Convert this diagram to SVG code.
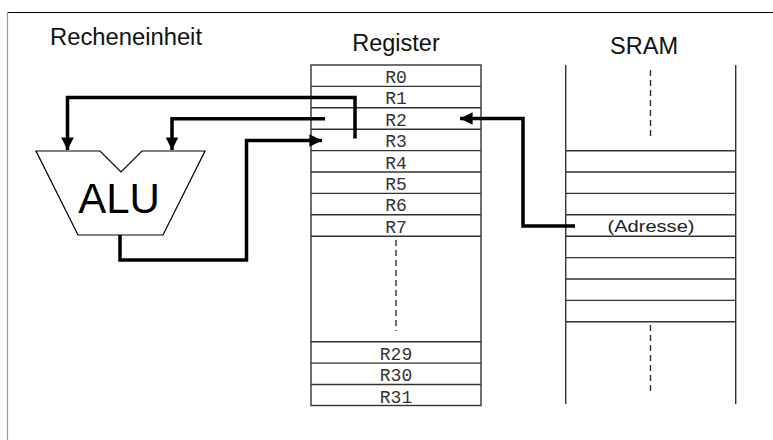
<svg xmlns="http://www.w3.org/2000/svg" width="773" height="440" viewBox="0 0 773 440">
<style>
.title{font-family:"Liberation Sans",Arial,sans-serif;font-size:23.5px;fill:#111}
.reg{font-family:"Liberation Mono","Courier New",monospace;font-size:18px;fill:#333;text-anchor:middle}
.box{fill:none;stroke:#333;stroke-width:1.4}
.dash{fill:none;stroke:#333;stroke-width:1.4;stroke-dasharray:6,4}
.wire{fill:none;stroke:#000;stroke-width:3.5;stroke-linejoin:miter}
</style>
<defs>
<marker id="ah" viewBox="0 0 10 10" refX="10" refY="5" markerWidth="4.3" markerHeight="3.6" markerUnits="strokeWidth" orient="auto">
<path d="M0,0 L10,5 L0,10 z" fill="#000"/>
</marker>
</defs>
<rect width="773" height="440" fill="#fff"/>
<line x1="7" y1="12.5" x2="773" y2="12.5" stroke="#000" stroke-width="1.2"/>
<line x1="7.5" y1="12" x2="7.5" y2="440" stroke="#999" stroke-width="1.2"/>

<text class="title" x="50" y="45" textLength="152" lengthAdjust="spacingAndGlyphs">Recheneinheit</text>
<text class="title" x="396" y="51" text-anchor="middle">Register</text>
<text class="title" x="644" y="54" textLength="68" lengthAdjust="spacingAndGlyphs" text-anchor="middle">SRAM</text>

<g id="alu">
<polygon points="36,151 100,151 121,172 142,151 205,151 163,235 78,235" fill="#fff" stroke="#000" stroke-width="1.2"/>
<text x="119" y="212.5" text-anchor="middle" style="font-family:'Liberation Sans',Arial,sans-serif;font-size:42px;fill:#000">ALU</text>
</g>

<g id="register">
<rect class="box" x="311" y="65" width="170" height="340.5"/>
<path class="box" d="M311,86.4H481M311,107.8H481M311,129.2H481M311,150.6H481M311,172H481M311,193.4H481M311,214.8H481M311,236.2H481M311,341.7H481M311,363.1H481M311,384.5H481"/>
<line class="dash" x1="396" y1="240" x2="396" y2="331"/>
<text class="reg" x="396" y="83">R0</text>
<text class="reg" x="396" y="104.4">R1</text>
<text class="reg" x="396" y="125.8">R2</text>
<text class="reg" x="396" y="147.2">R3</text>
<text class="reg" x="396" y="168.6">R4</text>
<text class="reg" x="396" y="190">R5</text>
<text class="reg" x="396" y="211.4">R6</text>
<text class="reg" x="396" y="232.8">R7</text>
<text class="reg" x="396" y="360">R29</text>
<text class="reg" x="396" y="381.4">R30</text>
<text class="reg" x="396" y="402.8">R31</text>
</g>

<g id="sram">
<path class="box" d="M565.7,65V404M735.7,65V404"/>
<path class="box" d="M565.7,150.7H735.7M565.7,172H735.7M565.7,193.4H735.7M565.7,214.8H735.7M565.7,236.2H735.7M565.7,257.6H735.7M565.7,279H735.7M565.7,300.4H735.7M565.7,321.8H735.7"/>
<line class="dash" x1="650.5" y1="70" x2="650.5" y2="140"/>
<line class="dash" x1="650.5" y1="325" x2="650.5" y2="395"/>
<text x="651" y="232" text-anchor="middle" textLength="87" lengthAdjust="spacingAndGlyphs" style="font-family:'Liberation Sans',Arial,sans-serif;font-size:17px;fill:#222">(Adresse)</text>
</g>

<g id="connectors">
<path class="wire" d="M355,138.5V97.5H67.5V150" marker-end="url(#ah)"/>
<path class="wire" d="M325,118.8H172V150" marker-end="url(#ah)"/>
<path class="wire" d="M120,235V260H246.5V140.5H322" marker-end="url(#ah)"/>
<path class="wire" d="M575,226H523V118.5H460" marker-end="url(#ah)"/>
</g>
</svg>
